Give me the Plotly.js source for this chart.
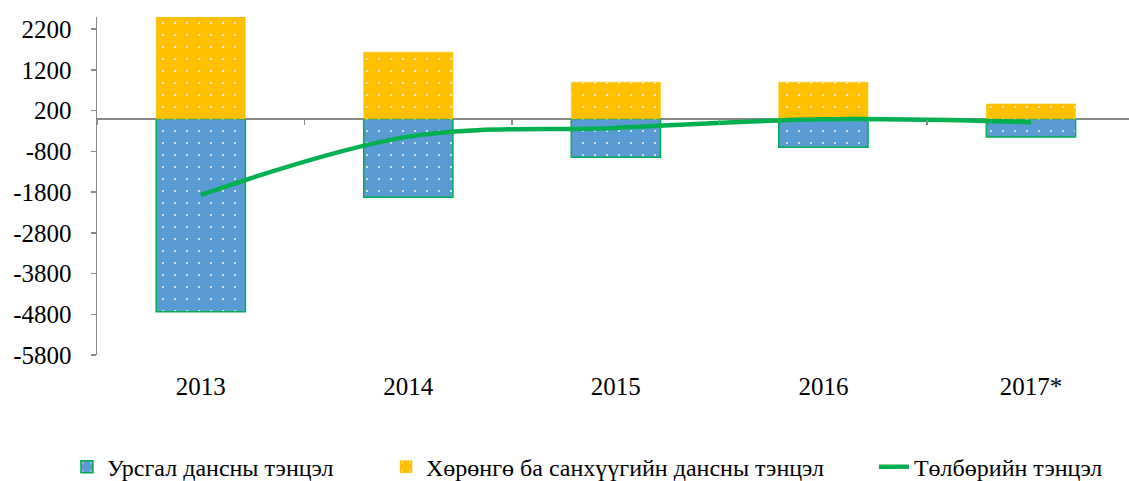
<!DOCTYPE html>
<html>
<head>
<meta charset="utf-8">
<script src="https://cdn.plot.ly/plotly-3.0.1.min.js"></script>
<style>html,body{margin:0;padding:0;background:#fff;}#chart{width:1129px;height:481px;}</style>
</head>
<body>
<div id="chart"></div>
<script>
var years = ["2013", "2014", "2015", "2016", "2017*"];
var currentAccount = [-4735, -1926, -943, -698, -445];
var financialAccount = [2500, 1636, 899, 899, 366];
var balanceOfPayments = [-1870, -437, -224, -10, -83];
var yTicks = [2200, 1200, 200, -800, -1800, -2800, -3800, -4800, -5800];
var names = ["Урсгал дансны тэнцэл", "Хөрөнгө ба санхүүгийн дансны тэнцэл", "Төлбөрийн тэнцэл"];

var FONT = 'Liberation Serif';
var FS = 25, LFS = 24;
var BLUE = '#5B9BD5', ORANGE = '#FFC000', GREEN = '#00B050', GREY = '#898989';
var yMin = -5800, yMax = 2500;

var traces = [
  {
    type: 'bar', x: years, y: currentAccount, name: names[0], legend: 'legend',
    marker: {
      color: BLUE,
      line: {color: GREEN, width: 1.5},
      pattern: {shape: '.', fgcolor: '#ffffff', bgcolor: BLUE, size: 12, solidity: 0.02, fillmode: 'replace'}
    },
    hoverinfo: 'x+y'
  },
  {
    type: 'bar', x: years, y: financialAccount, name: names[1], legend: 'legend2',
    marker: {
      color: ORANGE,
      line: {color: ORANGE, width: 0.5},
      pattern: {shape: '.', fgcolor: '#ffffff', bgcolor: ORANGE, size: 12, solidity: 0.02, fillmode: 'replace'}
    },
    hoverinfo: 'x+y'
  },
  {
    type: 'scatter', mode: 'lines', x: years, y: balanceOfPayments, name: names[2], legend: 'legend3',
    line: {color: GREEN, width: 4.5, shape: 'spline', smoothing: 1}
  },
  {
    type: 'scatter', mode: 'markers', x: years, y: years.map(function(){return 0;}),
    xaxis: 'x2', yaxis: 'y', showlegend: false, hoverinfo: 'skip',
    marker: {opacity: 0, size: 1}
  }
];

function leg(x) {
  return {
    orientation: 'h', xref: 'container', yref: 'container',
    x: x, y: 0.029, xanchor: 'left', yanchor: 'middle',
    font: {family: FONT, size: LFS, color: '#000'},
    bgcolor: 'rgba(0,0,0,0)', borderwidth: 0
  };
}

var layout = {
  width: 1129, height: 481,
  margin: {l: 97, r: 0, t: 17, b: 126, pad: 0},
  paper_bgcolor: '#fff', plot_bgcolor: '#fff',
  font: {family: FONT, size: FS, color: '#000'},
  barmode: 'relative', bargap: 0.57,
  showlegend: true,
  legend: leg(0.0593),
  legend2: leg(0.3419),
  legend3: leg(0.7741),
  xaxis: {
    type: 'category', categoryarray: years, range: [-0.5, 4.4725],
    showline: false, showgrid: false, zeroline: false, ticks: '',
    ticklabelstandoff: 14,
    tickfont: {family: FONT, size: FS, color: '#000'}
  },
  xaxis2: {
    type: 'category', categoryarray: years, range: [-0.5, 4.4725],
    overlaying: 'x', anchor: 'free', position: (0 - yMin) / (yMax - yMin),
    showline: false, showgrid: false, zeroline: false, showticklabels: false,
    ticks: 'outside', tickson: 'boundaries', ticklen: 5, tickwidth: 1.5, tickcolor: GREY
  },
  yaxis: {
    range: [yMin, yMax], tickvals: yTicks, ticktext: yTicks.map(String),
    showline: true, linecolor: GREY, linewidth: 1.5,
    ticks: 'outside', ticklen: 5, tickwidth: 1.5, tickcolor: GREY,
    showgrid: false, zeroline: true, zerolinecolor: GREY, zerolinewidth: 2,
    ticklabelstandoff: 14,
    tickfont: {family: FONT, size: FS, color: '#000'}
  }
};

Plotly.newPlot('chart', traces, layout, {displayModeBar: false, staticPlot: true});
</script>
</body>
</html>
